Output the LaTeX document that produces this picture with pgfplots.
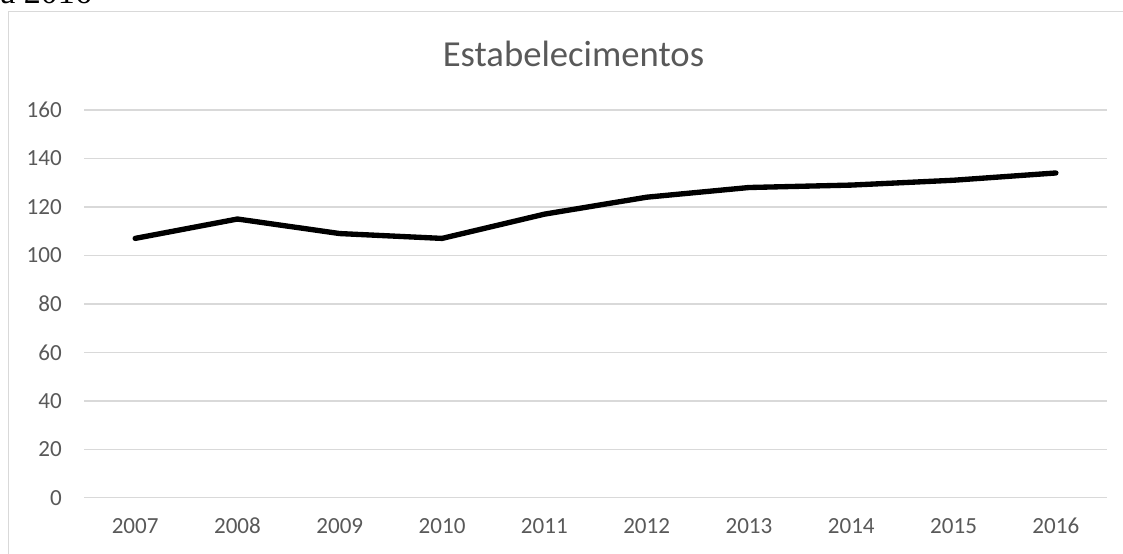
\documentclass[border=0pt]{standalone}
\usepackage{pgfplots}
\pgfplotsset{compat=1.18}
\usepackage{fontspec}
\setmainfont{Carlito}
\newfontfamily\seriffont{Liberation Serif}
\definecolor{txt}{HTML}{595959}
\definecolor{grd}{HTML}{D9D9D9}
\begin{document}
\begin{tikzpicture}
\useasboundingbox (0,0) rectangle (842.25pt,414.75pt);
\node[anchor=base west, inner sep=0pt, font=\seriffont\fontsize{25.5}{28}\selectfont] at (0pt,411.75pt) {a 2016};
\draw[grd, line width=0.75pt] (6pt,-5pt) -- (6pt,405.75pt) -- (850pt,405.75pt);
\node[anchor=base, inner sep=0pt, text=txt, font=\fontsize{27.5}{30}\selectfont] at (430.1pt,364.5pt) {Estabelecimentos};
\begin{axis}[
  at={(63pt,41.475pt)}, anchor=south west,
  scale only axis, width=767.25pt, height=290.8pt,
  xmin=-0.5, xmax=9.5, ymin=0, ymax=160,
  axis line style={draw=none},
  xtick={0,...,9},
  xticklabels={2007,2008,2009,2010,2011,2012,2013,2014,2015,2016},
  ytick={0,20,...,160},
  major tick length=0pt,
  ymajorgrids, grid style={grd, line width=1.1pt},
  tick label style={text=txt, font=\fontsize{17.3}{20}\selectfont, inner sep=0pt},
  x tick label style={text height=11.3pt, text depth=0pt},
  /pgf/number format/assume math mode=true,
  yticklabel shift=16.5pt,
  xticklabel shift=15pt,
  clip=false,
]
\addplot[black, line width=4pt, line join=round, line cap=round] coordinates {
(0,107) (1,115) (2,109) (3,107) (4,117) (5,124) (6,128) (7,129) (8,131) (9,134)
};
\end{axis}
\end{tikzpicture}
\end{document}
